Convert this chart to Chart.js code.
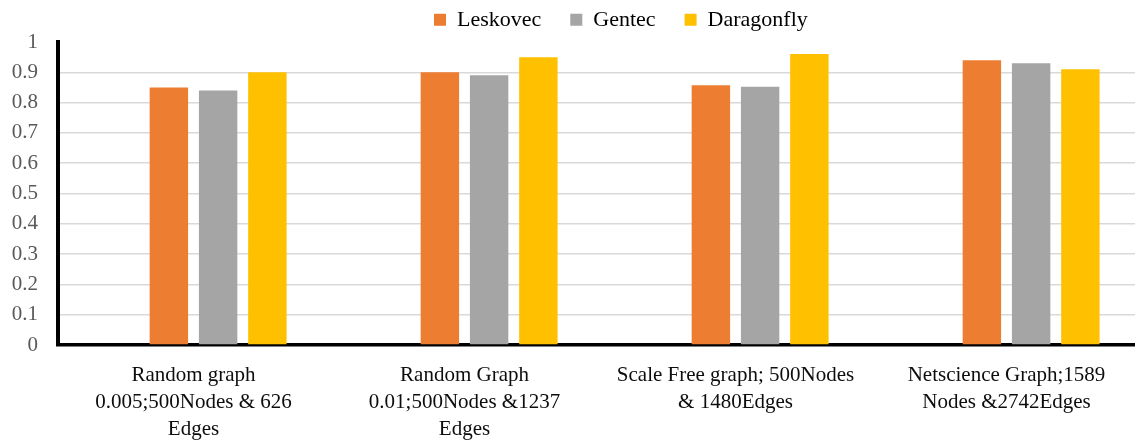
<!DOCTYPE html>
<html>
<head>
<meta charset="utf-8">
<script src="https://cdn.jsdelivr.net/npm/chart.js@4/dist/chart.umd.min.js"></script>
<style>
html,body{margin:0;padding:0;background:#fff;overflow:hidden;width:1135px;height:440px;}
canvas{display:block;}
</style>
</head>
<body>
<canvas id="c" width="1142" height="440"></canvas>
<script>
const categories = [
  ["Random graph", "0.005;500Nodes & 626", "Edges"],
  ["Random Graph", "0.01;500Nodes &1237", "Edges"],
  ["Scale Free graph; 500Nodes", "& 1480Edges"],
  ["Netscience Graph;1589", "Nodes &2742Edges"]
];
const seriesNames = ["Leskovec", "Gentec", "Daragonfly"];
const leskovec = [0.85, 0.90, 0.857, 0.94];
const gentec = [0.84, 0.89, 0.852, 0.93];
const daragonfly = [0.90, 0.95, 0.96, 0.91];
const emptySeries = [null, null, null, null];
const colors = ["#ED7D31", "#A5A5A5", "#FFC000"];
const yTicks = [0, 0.1, 0.2, 0.3, 0.4, 0.5, 0.6, 0.7, 0.8, 0.9, 1];

const serif = "'Liberation Serif', 'Times New Roman', serif";
Chart.defaults.font.family = serif;

const legendPlacer = {
  id: 'legendPlacer',
  afterInit(chart) {
    const l = chart.legend;
    const origFit = l.fit;
    l.fit = function () { origFit.call(this); this.height = 0; };
  },
  afterLayout(chart) {
    const l = chart.legend;
    const pad = l.options.labels.padding;
    const dx = (434 - pad) - l.left;
    l.left += dx; l.right += dx;
    l.top = 22 - pad - 13.2;
    l.height = 80;
    l.bottom = l.top + l.height;
  }
};

new Chart(document.getElementById('c'), {
  type: 'bar',
  data: {
    labels: categories,
    datasets: [
      { label: '', data: emptySeries, backgroundColor: 'rgba(0,0,0,0)' },
      { label: seriesNames[0], data: leskovec, backgroundColor: colors[0] },
      { label: seriesNames[1], data: gentec, backgroundColor: colors[1] },
      { label: seriesNames[2], data: daragonfly, backgroundColor: colors[2] }
    ]
  },
  options: {
    responsive: false,
    animation: false,
    categoryPercentage: 0.727,
    barPercentage: 0.78,
    layout: { padding: { top: 42, left: 0, right: 0, bottom: 0 } },
    plugins: {
      tooltip: { enabled: false },
      legend: {
        position: 'top',
        align: 'start',
        labels: {
          filter: (item) => item.datasetIndex > 0,
          boxWidth: 12,
          boxHeight: 12,
          padding: 29,
          color: '#000',
          font: { family: serif, size: 22, lineHeight: 1.2 }
        }
      }
    },
    scales: {
      x: {
        grid: { display: false, drawTicks: false },
        border: { display: true, color: '#000', width: 3.5 },
        ticks: {
          color: '#0d0d0d',
          padding: 17,
          maxRotation: 0,
          autoSkip: false,
          font: { family: serif, size: 21, lineHeight: 27 / 21 }
        },
        afterFit: (s) => { s.height = 95; }
      },
      y: {
        min: 0,
        max: 1,
        afterBuildTicks: (s) => { s.ticks = yTicks.map(v => ({ value: v })); },
        grid: {
          drawTicks: false,
          lineWidth: 1.5,
          color: (ctx) => (ctx.tick && ctx.tick.value >= 1) ? 'rgba(0,0,0,0)' : '#d9d9d9'
        },
        border: { display: true, color: '#000', width: 4 },
        ticks: {
          color: '#595959',
          padding: 20,
          font: { family: serif, size: 21 },
          callback: (v) => String(Math.round(v * 10) / 10)
        },
        afterFit: (s) => { s.width = 58; }
      }
    }
  },
  plugins: [legendPlacer]
});
</script>
</body>
</html>
